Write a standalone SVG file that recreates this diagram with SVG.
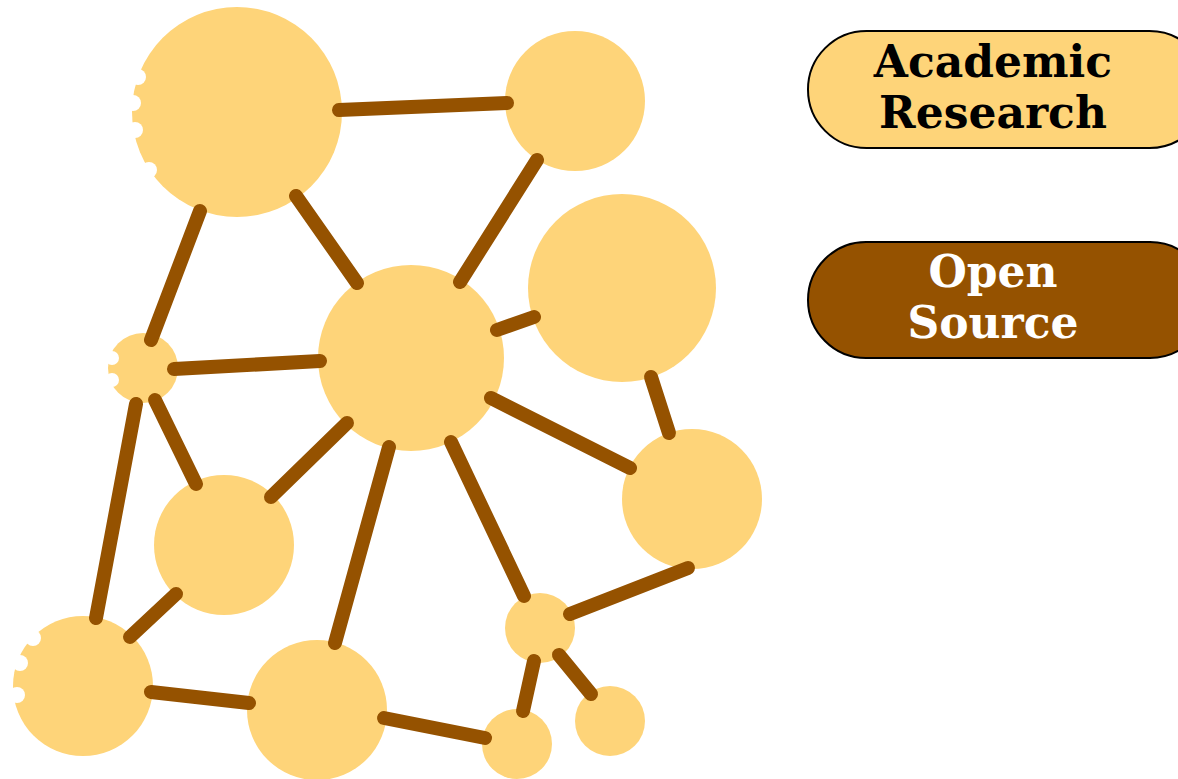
<svg xmlns="http://www.w3.org/2000/svg" width="1178" height="779" viewBox="0 0 1178 779">
  <style>
    .node { fill: #FED479; }
    .bite { fill: #FFFFFF; }
    .link { stroke: #955200; stroke-width: 14; stroke-linecap: round; fill: none; }
    .pill { stroke: #000000; stroke-width: 2; }
    .label { font-family: "DejaVu Serif", "Liberation Serif", serif; font-weight: bold; font-size: 44px; text-anchor: middle; }
  </style>
  <rect width="1178" height="779" fill="#FFFFFF"/>

  <!-- nodes -->
  <g id="n1"><circle class="node" cx="237" cy="112" r="105"/>
    <circle class="bite" cx="138" cy="77" r="8"/><circle class="bite" cx="133" cy="103" r="8"/>
    <circle class="bite" cx="135" cy="130" r="8"/><circle class="bite" cx="149" cy="170" r="8"/></g>
  <g id="n2"><circle class="node" cx="575" cy="101" r="70"/></g>
  <g id="n3"><circle class="node" cx="622" cy="288" r="94"/></g>
  <g id="n4"><circle class="node" cx="411" cy="358" r="93"/></g>
  <g id="n5"><circle class="node" cx="143" cy="368" r="35"/>
    <circle class="bite" cx="112" cy="358" r="7"/><circle class="bite" cx="112" cy="380" r="7"/></g>
  <g id="n6"><circle class="node" cx="224" cy="545" r="70"/></g>
  <g id="n7"><circle class="node" cx="692" cy="499" r="70"/></g>
  <g id="n8"><circle class="node" cx="83" cy="686" r="70"/>
    <circle class="bite" cx="33" cy="638" r="8"/><circle class="bite" cx="20" cy="663" r="8"/>
    <circle class="bite" cx="17" cy="695" r="8"/></g>
  <g id="n9"><circle class="node" cx="317" cy="710" r="70"/></g>
  <g id="n10"><circle class="node" cx="540" cy="628" r="35"/></g>
  <g id="n11"><circle class="node" cx="517" cy="744" r="35"/></g>
  <g id="n12"><circle class="node" cx="610" cy="721" r="35"/></g>

  <!-- connectors -->
  <g id="links">
    <line class="link" x1="339" y1="110" x2="507" y2="103"/>
    <line class="link" x1="537" y1="160" x2="460" y2="282"/>
    <line class="link" x1="200" y1="211" x2="151" y2="340"/>
    <line class="link" x1="296" y1="196" x2="357" y2="283"/>
    <line class="link" x1="497" y1="330" x2="534" y2="317"/>
    <line class="link" x1="174" y1="369" x2="320" y2="361"/>
    <line class="link" x1="155" y1="400" x2="196" y2="484"/>
    <line class="link" x1="136" y1="404" x2="96" y2="618"/>
    <line class="link" x1="347" y1="423" x2="271" y2="497"/>
    <line class="link" x1="389" y1="447" x2="335" y2="643"/>
    <line class="link" x1="451" y1="442" x2="524" y2="596"/>
    <line class="link" x1="491" y1="398" x2="630" y2="468"/>
    <line class="link" x1="651" y1="377" x2="669" y2="433"/>
    <line class="link" x1="176" y1="594" x2="130" y2="637"/>
    <line class="link" x1="151" y1="692" x2="249" y2="703"/>
    <line class="link" x1="384" y1="718" x2="485" y2="738"/>
    <line class="link" x1="570" y1="614" x2="688" y2="568"/>
    <line class="link" x1="534" y1="661" x2="523" y2="711"/>
    <line class="link" x1="559" y1="655" x2="591" y2="694"/>
  </g>

  <!-- legend -->
  <g id="legend-academic">
    <rect class="pill" x="808" y="31" width="400" height="117" rx="58.5" fill="#FED479"/>
    <text class="label" x="993" y="77" fill="#000000">Academic</text>
    <text class="label" x="993" y="128" fill="#000000">Research</text>
  </g>
  <g id="legend-open">
    <rect class="pill" x="808" y="242" width="400" height="116" rx="58" fill="#955200"/>
    <text class="label" x="993" y="287" fill="#FFFFFF">Open</text>
    <text class="label" x="993" y="338" fill="#FFFFFF">Source</text>
  </g>
</svg>
